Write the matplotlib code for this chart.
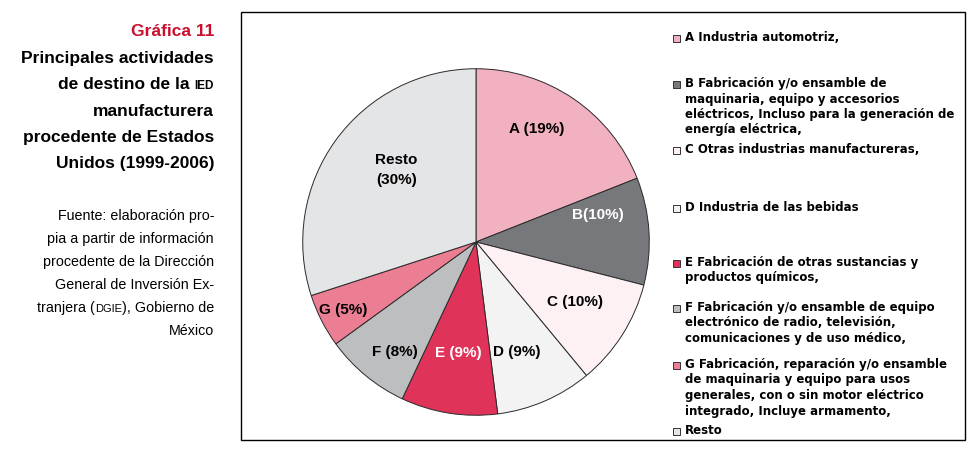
import numpy as np
import matplotlib.pyplot as plt
from matplotlib.patches import Rectangle

# data
labels = ['A (19%)', 'B(10%)', 'C (10%)', 'D (9%)', 'E (9%)', 'F (8%)', 'G (5%)', 'Resto\n(30%)']
values = [19, 10, 10, 9, 9, 8, 5, 30]
colors = ['#f2b1c1', '#77787b', '#fdf1f3', '#f3f3f3', '#e0335a', '#bdbec0', '#ec7e94', '#e4e5e7']
label_colors = ['black', 'white', 'black', 'black', 'white', 'black', 'black', 'black']
label_radius = [0.74, 0.72, 0.67, 0.68, 0.65, 0.79, 0.86, 0.62]
label_shift = [6, 9, 1, -3, 0, 3, 0, -6]  # degrees

legend_texts = [
    'A Industria automotriz,',
    'B Fabricación y/o ensamble de\nmaquinaria, equipo y accesorios\neléctricos, Incluso para la generación de\nenergía eléctrica,',
    'C Otras industrias manufactureras,',
    'D Industria de las bebidas',
    'E Fabricación de otras sustancias y\nproductos químicos,',
    'F Fabricación y/o ensamble de equipo\nelectrónico de radio, televisión,\ncomunicaciones y de uso médico,',
    'G Fabricación, reparación y/o ensamble\nde maquinaria y equipo para usos\ngenerales, con o sin motor eléctrico\nintegrado, Incluye armamento,',
    'Resto',
]
legend_y = [38, 84, 150, 208, 263, 308, 365, 431]  # pixel rows of first line

W, H = 976, 449
fig = plt.figure(figsize=(W / 100, H / 100), dpi=100)
fig.patch.set_facecolor('white')
plt.rcParams['font.family'] = ['Liberation Sans', 'DejaVu Sans']
renderer = fig.canvas.get_renderer()


def right_line(x_px, y_px, pieces, weight='normal'):
    # pieces: list of (text, fontsize); drawn right-aligned at x_px on a shared baseline
    objs = [fig.text(0, 1 - y_px / H, t, ha='left', va='baseline', fontsize=s, fontweight=weight)
            for t, s in pieces]
    widths = [o.get_window_extent(renderer).width for o in objs]
    x = x_px - sum(widths)
    for o, w in zip(objs, widths):
        o.set_x(x / W)
        x += w


# frame around chart + legend
fig.patches.append(Rectangle((241 / W, 1 - 440 / H), (965 - 241) / W, (440 - 12) / H,
                             transform=fig.transFigure, fill=False, edgecolor='black', linewidth=1.0))

# pie
cx, cy, r = 476, 242, 175
ax = fig.add_axes([(cx - r) / W, 1 - (cy + r) / H, 2 * r / W, 2 * r / H])
wedges, _ = ax.pie(values, colors=colors, startangle=90, counterclock=False,
                   wedgeprops=dict(edgecolor='#2a2a2a', linewidth=0.7))
ax.set_aspect('equal')
ax.set_xlim(-1.01, 1.01)
ax.set_ylim(-1.01, 1.01)
for w, lab, c, rad, sh in zip(wedges, labels, label_colors, label_radius, label_shift):
    ang = np.deg2rad((w.theta1 + w.theta2) / 2 + sh)
    ax.text(rad * np.cos(ang), rad * np.sin(ang), lab, ha='center', va='center',
            fontsize=11, fontweight='bold', color=c, linespacing=1.5)

# legend
for txt, y, col in zip(legend_texts, legend_y, colors):
    fig.patches.append(Rectangle((673 / W, 1 - (y + 4) / H), 7 / W, 7 / H,
                                 transform=fig.transFigure, facecolor=col,
                                 edgecolor='#333333', linewidth=0.7))
    fig.text(685 / W, 1 - (y - 7) / H, txt, ha='left', va='top', fontsize=8.5,
             fontweight='bold', family='DejaVu Sans', linespacing=1.25)

# left side title and source
fig.text(214 / W, 1 - 31 / H, 'Gráfica 11', ha='right', va='center', fontsize=12.5,
         fontweight='bold', color='#c8102e')
title_lines = [[('Principales actividades', 12.5)],
               [('de destino de la ', 12.5), ('IED', 8.5)],
               [('manufacturera', 12.5)],
               [('procedente de Estados', 12.5)],
               [('Unidos (1999-2006)', 12.5)]]
for i, pieces in enumerate(title_lines):
    right_line(214, 63 + 26.3 * i, pieces, weight='bold')

source_lines = [[('Fuente: elaboración pro-', 10.3)],
                [('pia a partir de información', 10.3)],
                [('procedente de la Dirección', 10.3)],
                [('General de Inversión Ex-', 10.3)],
                [('tranjera (', 10.3), ('DGIE', 8), ('), Gobierno de', 10.3)],
                [('México', 10.3)]]
for i, pieces in enumerate(source_lines):
    right_line(214, 220 + 23 * i, pieces)

fig.savefig('out.png', dpi=100)
